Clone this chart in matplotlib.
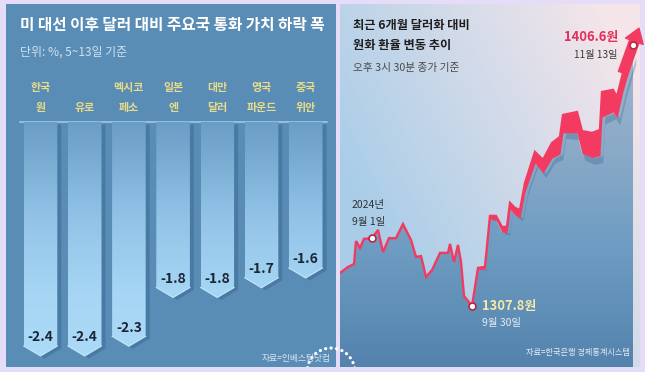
import numpy as np
import matplotlib
matplotlib.use('Agg')
import matplotlib.pyplot as plt
from matplotlib.colors import LinearSegmentedColormap, to_rgb
from matplotlib.patches import Polygon, Rectangle, Circle
from matplotlib.transforms import blended_transform_factory

plt.rcParams['font.family'] = ['Noto Sans CJK KR', 'DejaVu Sans']

# ---------------- data: left chart ----------------
currencies = ["한국\n원", "유로", "멕시코\n페소", "일본\n엔", "대만\n달러", "영국\n파운드", "중국\n위안"]
drop_pct = [-2.4, -2.4, -2.3, -1.8, -1.8, -1.7, -1.6]

# ---------------- data: right chart (trading-day index, KRW per USD) ----------------
day = [0.0, 1.45, 2.55, 2.91, 3.64, 4.36, 5.82, 6.91, 7.82, 8.91, 10.18, 11.45, 12.91,
       13.82, 14.73, 15.64, 16.73, 18.18, 19.64, 20.0, 20.73, 21.45, 22.0, 22.55, 24.0,
       25.09, 26.36, 27.27, 28.36, 29.45, 30.36, 30.91, 31.82, 32.73, 33.64, 35.45,
       36.91, 38.55, 40.0, 40.55, 43.09, 44.0, 45.82, 47.27, 47.64, 49.64, 50.36,
       51.45, 53.27]
krw = [1320.3, 1322.6, 1323.7, 1332.4, 1329.8, 1333.2, 1333.5, 1336.6, 1328.2, 1333.5,
       1333.5, 1338.8, 1332.8, 1326.4, 1326.7, 1318.8, 1321.4, 1327.9, 1327.9, 1331.3,
       1324.5, 1330.9, 1324.5, 1311.6, 1307.8, 1322.2, 1322.6, 1341.9, 1341.9, 1337.7,
       1337.7, 1346.8, 1344.9, 1344.1, 1354.4, 1366.1, 1363.1, 1369.5, 1371.8, 1380.1,
       1381.2, 1374.0, 1373.3, 1374.4, 1388.8, 1389.6, 1386.9, 1396.0, 1406.6]
idx_sep1, idx_sep30, idx_nov13 = 6, 24, len(krw) - 1

W, H = 645, 372
RED = '#f33a61'

fig = plt.figure(figsize=(W / 100, H / 100), dpi=100)
fig.patch.set_facecolor('#e5dcf7')


def px_axes(l, t, r, b, z):
    ax = fig.add_axes([l / W, 1 - b / H, (r - l) / W, (b - t) / H])
    ax.set_zorder(z)
    ax.axis('off')
    return ax


bg = px_axes(0, 0, W, H, 0)
bg.set_xlim(0, W); bg.set_ylim(H, 0)
fg = px_axes(0, 0, W, H, 10)
fg.set_xlim(0, W); fg.set_ylim(H, 0)
fg.patch.set_alpha(0)

# ---------------- left panel ----------------
bg.add_patch(Rectangle((6, 4), 330, 363, color='#5a8db6', lw=0))
bg.plot([20, 327], [121.5, 121.5], color='#a8cce6', lw=1.1)

axL = px_axes(6, 122, 336, 367, 2)
axL.patch.set_alpha(0)
px_x, px_y = 44.2, 97.5
xl = ((6 - 40.5) / px_x, (336 - 40.5) / px_x)
yl = (-245 / px_y, 0)
axL.set_xlim(*xl); axL.set_ylim(*yl)
hw = 16.8 / px_x
ch = 10 / px_y
bar_cmap = LinearSegmentedColormap.from_list(
    'bar', [(0, '#6b9dc5'), (0.4, '#93c4e8'), (0.7, '#a6d6f4'), (1, '#abdbf8')])
grad = np.linspace(0, 1, 256).reshape(-1, 1)
for i, v in enumerate(drop_pct):
    pts = [(i - hw, 0), (i + hw, 0), (i + hw, v + ch), (i, v), (i - hw, v + ch)]
    sh = [(x + 4 / px_x, y - 2.5 / px_y) for x, y in pts]
    axL.add_patch(Polygon(sh, closed=True, color='#36648c', alpha=0.45, lw=0, zorder=1))
    poly = Polygon(pts, closed=True, facecolor='none', lw=0, zorder=2)
    axL.add_patch(poly)
    im = axL.imshow(grad, cmap=bar_cmap, extent=(i - hw, i + hw, yl[0], 0),
                    origin='upper', aspect='auto', zorder=2)
    im.set_clip_path(poly)
    axL.plot([i - hw, i, i + hw], [v + ch, v, v + ch], color='#c4e6fb', lw=0.8, zorder=3)
    axL.annotate(f"{v}", xy=(i, v), xytext=(0, 13.5), textcoords='offset points',
                 ha='center', va='center', fontsize=10, fontweight='bold',
                 color='#1b2637', zorder=4)
axL.set_xlim(*xl); axL.set_ylim(*yl)

# category labels (x from data axes, y in pixels)
tr = blended_transform_factory(axL.transData, fg.transData)
for i, c in enumerate(currencies):
    lines = c.split('\n')
    for k, line in enumerate(reversed(lines)):
        fg.text(i, 108 - 20 * k, line, transform=tr, ha='center', va='center',
                fontsize=7.9, fontweight='heavy', color='#e8dc88')

fg.text(20, 25, "미 대선 이후 달러 대비 주요국 통화 가치 하락 폭", ha='left', va='center',
        fontsize=11.3, fontweight='bold', color='white')
fg.text(20, 52, "단위: %, 5~13일 기준", ha='left', va='center', fontsize=8.6, color='#cfe0ee')
fg.text(331, 358, "자료=인베스팅닷컴", ha='right', va='center', fontsize=6.3, color='#d9e6f0')

# ---------------- right panel ----------------
axR = px_axes(340, 4, 640, 367, 3)
sx = 5.5
sy = 2.642
xr = (0, 300 / sx)
yr = (1307.8 - 61 / sy, 1307.8 + 302 / sy)

u = np.linspace(0, 1, 300)[None, :]
w = np.linspace(1, 0, 200)[:, None]
t = np.clip(0.85 * u + 0.55 * w - 0.3, 0, 1)[..., None]
c0 = np.array(to_rgb('#a9cde8')); c1 = np.array(to_rgb('#f5e6ea'))
bg_img = c0 * (1 - t) + c1 * t
axR.imshow(bg_img, extent=(0, 1, 0, 1), transform=axR.transAxes, aspect='auto', zorder=0)

d = np.array(day); k = np.array(krw)
thick = np.interp(d, [0, 24, 33, 40, 47, 51, 54], [0.5, 0.5, 8, 17, 26, 20, 10]) / sy
lower = k - thick

fill = axR.fill_between(d, yr[0], lower, facecolor='none', lw=0)
area_cmap = LinearSegmentedColormap.from_list(
    'area', [(0, '#5383ad'), (0.33, '#6e9cc2'), (0.6, '#8aaac8'), (1, '#a9bcd2')])
area_img = np.linspace(1, 0, 256).reshape(-1, 1)
im = axR.imshow(area_img, cmap=area_cmap, extent=(xr[0], xr[1], yr[0], yr[1]),
                origin='upper', aspect='auto', zorder=1)
im.set_clip_path(fill.get_paths()[0], transform=axR.transData)

# shadow under ribbon
axR.fill_between(d + 0.5, lower - 7 / sy * np.clip((d - 24) / 20, 0, 1), lower,
                 color='#3d6990', alpha=0.35, lw=0, zorder=2)
axR.fill_between(d, lower, k, color=RED, lw=0, zorder=3)
axR.plot(d, k, color=RED, lw=1.7, solid_joinstyle='miter', zorder=4)

tip_d = d[-1] + (d[-1] - d[-2]) * 0.6
tip_v = k[-1] + (k[-1] - k[-2]) * 0.6
axR.annotate('', xy=(tip_d, tip_v), xytext=(d[-2], k[-2]),
             arrowprops=dict(arrowstyle='simple,head_length=1.0,head_width=1.35,tail_width=0.7',
                             color=RED, shrinkA=0, shrinkB=0, mutation_scale=10), zorder=5)

for j in (idx_sep1, idx_sep30, idx_nov13):
    axR.plot(d[j], k[j], 'o', ms=5, mfc='white', mec='#b02a48', mew=1.2, zorder=6)

axR.set_xlim(*xr); axR.set_ylim(*yr)

fg.text(353, 26, "최근 6개월 달러화 대비", ha='left', va='center', fontsize=8.8,
        fontweight='bold', color='#1e1e1e')
fg.text(353, 45, "원화 환율 변동 추이", ha='left', va='center', fontsize=8.8,
        fontweight='bold', color='#1e1e1e')
fg.text(353, 68, "오후 3시 30분 종가 기준", ha='left', va='center', fontsize=7.7, color='#4a4a4a')
fg.text(618, 37, f"{krw[idx_nov13]}원", ha='right', va='center', fontsize=9.3,
        fontweight='bold', color='#e2305a')
fg.text(618, 55, "11월 13일", ha='right', va='center', fontsize=7.3, color='#3a3a3a')
fg.text(352, 205, "2024년", ha='left', va='center', fontsize=7.5, color='#333333')
fg.text(352, 222, "9월 1일", ha='left', va='center', fontsize=7.5, color='#333333')
fg.text(482, 306, f"{krw[idx_sep30]}원", ha='left', va='center', fontsize=9.3,
        fontweight='bold', color='#f4e9a6')
fg.text(482, 323, "9월 30일", ha='left', va='center', fontsize=7.5, color='#e6edf4')
fg.text(630, 352, "자료=한국은행 경제통계시스템", ha='right', va='center', fontsize=5.9,
        color='#e3ecf4')

# decorative dotted arc
arc = Circle((331, 372), 24, fill=False, edgecolor='white', lw=2.3,
             linestyle=(0, (0.05, 1.7)), capstyle='round')
fg.add_patch(arc)
fg.add_patch(Rectangle((0, 367), W, 5, color='#e5dcf7', lw=0, zorder=5))

fig.savefig('out.png', dpi=100, facecolor=fig.get_facecolor())
